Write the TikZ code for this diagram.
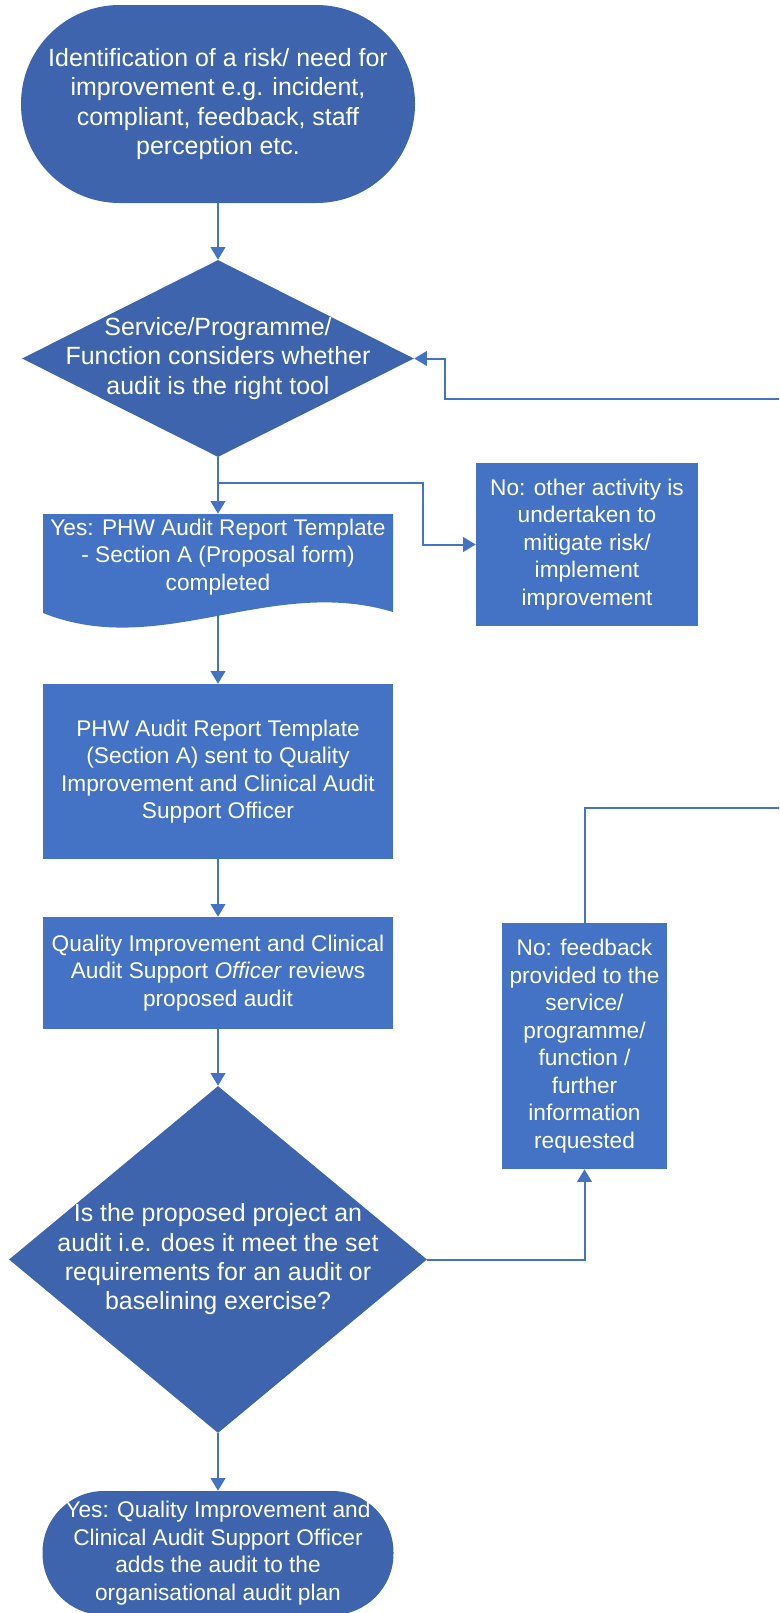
\documentclass[tikz,border=0pt]{standalone}
\usepackage{fontspec}
\setmainfont{Liberation Sans}
\usetikzlibrary{shapes.geometric,arrows.meta}
\definecolor{termblue}{HTML}{3E64AD}
\definecolor{boxblue}{HTML}{4472C4}

\begin{document}
\begin{tikzpicture}[x=0.75pt,y=-0.75pt,
        every node/.style={text=white, align=center, inner sep=0pt,
            font=\fontsize{17}{20.6}\selectfont},
        bigtext/.style={font=\fontsize{18.7}{22}\selectfont},
        terminal/.style={rectangle, fill=termblue},
        process/.style={rectangle, fill=boxblue},
        decision/.style={diamond, fill=termblue},
        flow/.style={draw=boxblue, line width=1.5pt,
            -{Triangle[width=11pt,length=9.5pt]}}]
        \useasboundingbox (0,0) rectangle (779,1613);
        \clip (0,0) rectangle (779,1613);

        \node[terminal, bigtext, rounded corners=74pt, minimum width=295.5pt, minimum height=148.5pt]
            (identify) at (218,104) {
            Identification of a risk/ need for\\
            improvement e.g. incident,\\
            compliant, feedback, staff\\
            perception etc.
        };

        \node[decision, minimum width=294pt, minimum height=147.75pt] (consider) at (218,358.5) {};
        \node[bigtext] (considerText) at (consider) {
            Service/Programme/\\
            Function considers whether\\
            audit is the right tool
        };

        % document shape with wavy bottom
        \fill[boxblue] (43,514) -- (393,514) -- (393,612)
            .. controls (270,575) and (160,660) .. (43,613) -- cycle;
        \node[minimum width=262.5pt, minimum height=64.5pt] (yesForm) at (218,557) {
            Yes: PHW Audit Report Template\\
            - Section A (Proposal form)\\
            completed
        };

        \node[process, minimum width=166.5pt, minimum height=122.25pt] (noOther) at (587,544.5) {
            No: other activity is\\
            undertaken to\\
            mitigate risk/\\
            implement\\
            improvement
        };

        \node[process, minimum width=262.5pt, minimum height=131.25pt] (sent) at (218,771.5) {
            PHW Audit Report Template\\
            (Section A) sent to Quality\\
            Improvement and Clinical Audit\\
            Support Officer
        };

        \node[process, minimum width=262.5pt, minimum height=84pt] (review) at (218,973) {
            Quality Improvement and Clinical\\
            Audit Support \textit{Officer} reviews\\
            proposed audit
        };

        \node[decision, minimum width=313.5pt, minimum height=260.25pt] (audit) at (218,1259.5) {};
        \node[bigtext] (auditText) at (audit) {
            Is the proposed project an\\
            audit i.e. does it meet the set\\
            requirements for an audit or\\
            baselining exercise?
        };

        \node[process, minimum width=123.75pt, minimum height=184.5pt] (feedback) at (584.5,1046) {
            No: feedback\\
            provided to the\\
            service/\\
            programme/\\
            function /\\
            further\\
            information\\
            requested
        };

        \node[terminal, rounded corners=46pt, minimum width=263.25pt, minimum height=93pt]
            (addPlan) at (218,1553) {
            Yes: Quality Improvement and\\
            Clinical Audit Support Officer\\
            adds the audit to the\\
            organisational audit plan
        };

        \draw[flow] (identify) -- (consider);
        \draw[flow] (consider.south) -- (yesForm.north);
        \draw[flow] (consider.south) -- ++(0,26) -- ++(205,0) |- (noOther.west);
        \draw[flow] (yesForm.south) -- (sent.north);
        \draw[flow] (sent) -- (review);
        \draw[flow] (review.south) -- (audit.north);
        \draw[flow] (audit.east) -| (feedback.south);
        \draw[flow] (feedback.north) -- ++(0,-115) -- ++(220,0) -- ++(0,-409)
            -- ++(-359.5,0) |- (consider.east);
        \draw[flow] (audit.south) -- (addPlan.north);
    \end{tikzpicture}
\end{document}
